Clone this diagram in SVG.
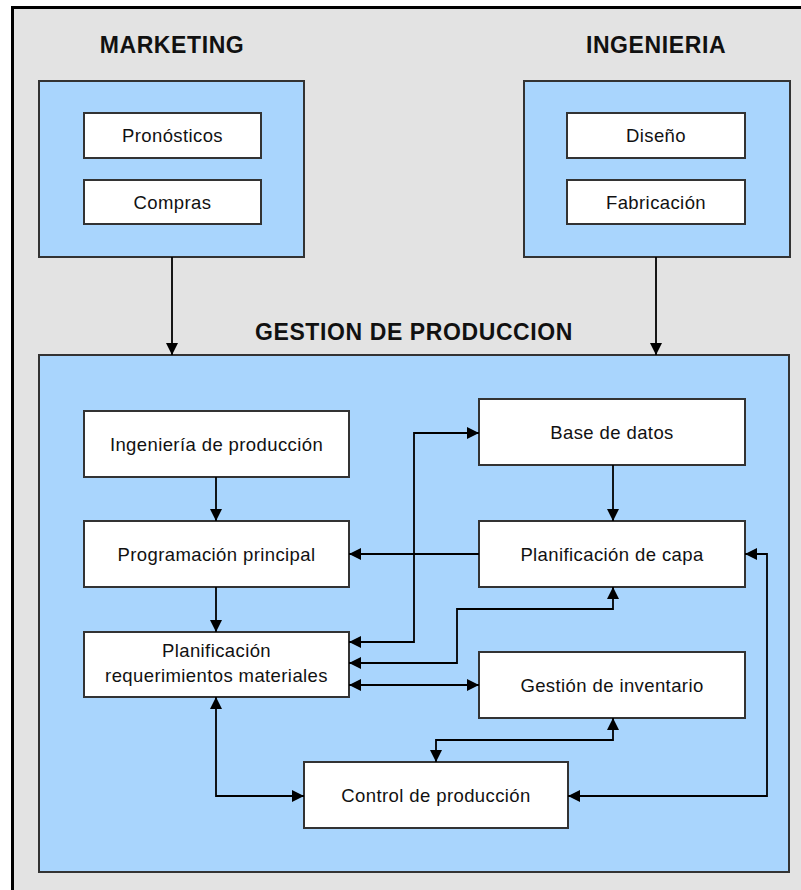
<svg xmlns="http://www.w3.org/2000/svg" width="801" height="890" viewBox="0 0 801 890">
  <defs>
    <marker id="arrow" markerUnits="userSpaceOnUse" markerWidth="12" markerHeight="12" refX="12" refY="6" orient="auto-start-reverse">
      <path d="M0,0 L12,6 L0,12 z" fill="#000"/>
    </marker>
  </defs>
  <style>
    .frame { fill: #e3e3e3; stroke: #000; stroke-width: 3; }
    .area { fill: #a9d5fd; stroke: #333; stroke-width: 2; }
    .box { fill: #fff; stroke: #333; stroke-width: 2; }
    .title { font-family: "Liberation Sans", Arial, sans-serif; font-weight: bold; font-size: 23px; letter-spacing: 0.6px; fill: #111; text-anchor: middle; }
    .label { font-family: "Liberation Sans", Arial, sans-serif; font-size: 18.5px; letter-spacing: 0.4px; fill: #111; text-anchor: middle; }
    .link { fill: none; stroke: #000; stroke-width: 1.8; }
  </style>

  <!-- outer frame -->
  <rect class="frame" x="12.5" y="7.5" width="820" height="900"/>

  <!-- department areas -->
  <g id="marketing">
    <text class="title" x="172" y="53">MARKETING</text>
    <rect class="area" x="39" y="81" width="265" height="176"/>
  </g>
  <g id="ingenieria">
    <text class="title" x="656" y="53">INGENIERIA</text>
    <rect class="area" x="524" y="81" width="266" height="176"/>
  </g>
  <g id="gestion-produccion">
    <text class="title" x="414" y="340">GESTION DE PRODUCCION</text>
    <rect class="area" x="39" y="355" width="750" height="517"/>
  </g>

  <!-- marketing nodes -->
  <g id="pronosticos">
    <rect class="box" x="84" y="113" width="177" height="45"/>
    <text class="label" x="172.5" y="142">Pronósticos</text>
  </g>
  <g id="compras">
    <rect class="box" x="84" y="180" width="177" height="44"/>
    <text class="label" x="172.5" y="208.5">Compras</text>
  </g>

  <!-- engineering nodes -->
  <g id="diseno">
    <rect class="box" x="567" y="113" width="178" height="45"/>
    <text class="label" x="656" y="142">Diseño</text>
  </g>
  <g id="fabricacion">
    <rect class="box" x="567" y="180" width="178" height="44"/>
    <text class="label" x="656" y="208.5">Fabricación</text>
  </g>

  <!-- production management nodes -->
  <g id="ingenieria-produccion">
    <rect class="box" x="84" y="411" width="265" height="66"/>
    <text class="label" x="216.5" y="450.5">Ingeniería de producción</text>
  </g>
  <g id="programacion-principal">
    <rect class="box" x="84" y="521" width="265" height="66"/>
    <text class="label" x="216.5" y="560.5">Programación principal</text>
  </g>
  <g id="planificacion-materiales">
    <rect class="box" x="84" y="632" width="265" height="65"/>
    <text class="label" x="216.5" y="657">Planificación</text>
    <text class="label" x="216.5" y="682">requerimientos materiales</text>
  </g>
  <g id="base-datos">
    <rect class="box" x="479" y="399" width="266" height="66"/>
    <text class="label" x="612" y="438.5">Base de datos</text>
  </g>
  <g id="planificacion-capa">
    <rect class="box" x="479" y="521" width="266" height="66"/>
    <text class="label" x="612" y="560.5">Planificación de capa</text>
  </g>
  <g id="gestion-inventario">
    <rect class="box" x="479" y="652" width="266" height="66"/>
    <text class="label" x="612" y="691.5">Gestión de inventario</text>
  </g>
  <g id="control-produccion">
    <rect class="box" x="304" y="762" width="264" height="66"/>
    <text class="label" x="436" y="801.5">Control de producción</text>
  </g>

  <!-- connectors -->
  <g id="connectors">
    <path class="link" d="M172,257 V355" marker-end="url(#arrow)"/>
    <path class="link" d="M656,257 V355" marker-end="url(#arrow)"/>
    <path class="link" d="M216,477 V521" marker-end="url(#arrow)"/>
    <path class="link" d="M216,587 V632" marker-end="url(#arrow)"/>
    <path class="link" d="M613,465 V521" marker-end="url(#arrow)"/>
    <path class="link" d="M479,554 H349" marker-end="url(#arrow)"/>
    <path class="link" d="M349,642 H414 V433 H479" marker-start="url(#arrow)" marker-end="url(#arrow)"/>
    <path class="link" d="M349,663 H457 V609 H613 V587" marker-start="url(#arrow)" marker-end="url(#arrow)"/>
    <path class="link" d="M349,685 H479" marker-start="url(#arrow)" marker-end="url(#arrow)"/>
    <path class="link" d="M613,718 V740 H436 V762" marker-start="url(#arrow)" marker-end="url(#arrow)"/>
    <path class="link" d="M216,697 V796 H304" marker-start="url(#arrow)" marker-end="url(#arrow)"/>
    <path class="link" d="M568,796 H767 V554 H745" marker-start="url(#arrow)" marker-end="url(#arrow)"/>
  </g>
</svg>
